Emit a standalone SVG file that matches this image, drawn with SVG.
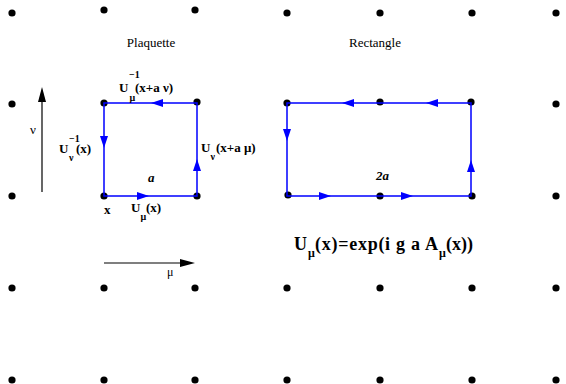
<svg xmlns="http://www.w3.org/2000/svg" width="566" height="384" viewBox="0 0 566 384">
<defs>
<style>
.dot{fill:#000}
.edge{stroke:#0000ff;stroke-width:1.5;fill:none}
.ah{fill:#0000ff}
.axis{stroke:#000;stroke-width:1.2;fill:none}
.t{font-family:"Liberation Serif",serif;fill:#000}
.b{font-family:"Liberation Serif",serif;font-weight:bold;fill:#000}
.lb{font-size:13px}
.sm{font-size:10px}
</style>
<circle id="d" r="3.6"/>
</defs>
<rect width="566" height="384" fill="#fff"/>
<g id="lattice" class="dot">
<use href="#d" x="12" y="13"/><use href="#d" x="104" y="10"/><use href="#d" x="195" y="10"/><use href="#d" x="287" y="13"/><use href="#d" x="380" y="13"/><use href="#d" x="472" y="13"/><use href="#d" x="556" y="13"/>
<use href="#d" x="12" y="104"/><use href="#d" x="104" y="103"/><use href="#d" x="197" y="102"/><use href="#d" x="287" y="103"/><use href="#d" x="380" y="102"/><use href="#d" x="471" y="102"/><use href="#d" x="556" y="104"/>
<use href="#d" x="12" y="196"/><use href="#d" x="104" y="196"/><use href="#d" x="197" y="196"/><use href="#d" x="288" y="195"/><use href="#d" x="380" y="196"/><use href="#d" x="472" y="196"/><use href="#d" x="556" y="196"/>
<use href="#d" x="12" y="288"/><use href="#d" x="104" y="288"/><use href="#d" x="195" y="288"/><use href="#d" x="287" y="288"/><use href="#d" x="380" y="288"/><use href="#d" x="472" y="288"/><use href="#d" x="556" y="288"/>
<use href="#d" x="12" y="380"/><use href="#d" x="104" y="380"/><use href="#d" x="195" y="380"/><use href="#d" x="287" y="380"/><use href="#d" x="380" y="380"/><use href="#d" x="472" y="380"/><use href="#d" x="556" y="380"/>
</g>
<g id="connectors">
<g id="plaquette-edges">
<path class="edge" d="M104,196 H197 V103 H104 Z"/>
<polygon class="ah" points="149,196 137,192 137,200"/>
<polygon class="ah" points="197,159 193,171 201,171"/>
<polygon class="ah" points="151,103 163,99 163,107"/>
<polygon class="ah" points="104,148 100,136 108,136"/>
</g>
<g id="rectangle-edges">
<path class="edge" d="M287,103 H471 V196 H287 Z"/>
<polygon class="ah" points="331,196 319,192 319,200"/>
<polygon class="ah" points="413,196 401,192 401,200"/>
<polygon class="ah" points="471,160 467,172 475,172"/>
<polygon class="ah" points="426,103 438,99 438,107"/>
<polygon class="ah" points="342,103 354,99 354,107"/>
<polygon class="ah" points="287,141 283,129 291,129"/>
</g>
<g id="axes">
<line class="axis" x1="42" y1="192" x2="42" y2="100"/>
<polygon points="42,87 38,102 46,102" fill="#000"/>
<line class="axis" x1="104" y1="263" x2="182" y2="263"/>
<polygon points="195,263 180,259 180,267" fill="#000"/>
</g>
</g>
<g id="titles">
<text class="t" x="151" y="47" font-size="13" text-anchor="middle">Plaquette</text>
<text class="t" x="375" y="47" font-size="13" text-anchor="middle">Rectangle</text>
</g>
<g id="labels">
<text class="t" x="30" y="134" font-size="13">ν</text>
<text class="t" x="167" y="276" font-size="12">μ</text>
<g id="lab-top"><text class="b lb" x="119" y="92">U</text><text class="b sm" x="129" y="78">−1</text><text class="b sm" x="129.5" y="101">μ</text><text class="b lb" x="135" y="92">(x+a ν)</text></g>
<g id="lab-left"><text class="b lb" x="59" y="153">U</text><text class="b sm" x="69" y="142">−1</text><text class="b sm" x="69" y="161">ν</text><text class="b lb" x="76" y="153">(x)</text></g>
<g id="lab-right"><text class="b lb" x="201" y="152">U</text><text class="b sm" x="210.5" y="160">ν</text><text class="b lb" x="216" y="152">(x+a μ)</text></g>
<g id="lab-bottom"><text class="b lb" x="104" y="214">x</text><text class="b lb" x="131" y="212">U</text><text class="b sm" x="140.5" y="220">μ</text><text class="b lb" x="146" y="212">(x)</text></g>
<text class="b lb" x="148" y="182" font-style="italic">a</text>
<text class="b lb" x="376" y="180" font-style="italic">2a</text>
<g id="formula"><text class="b" font-size="18" x="294" y="250">U</text><text class="b" font-size="12" x="308" y="257">μ</text><text class="b" font-size="18" x="315" y="250" textLength="123">(x)=exp(i g a A</text><text class="b" font-size="12" x="439" y="257">μ</text><text class="b" font-size="18" x="446" y="250">(x))</text></g>
</g>
</svg>
